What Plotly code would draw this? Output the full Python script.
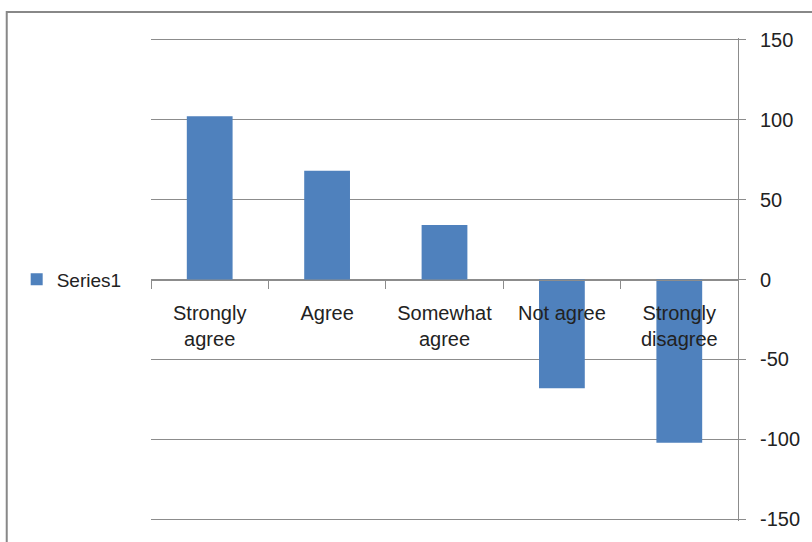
import plotly.graph_objects as go

categories = ["Strongly<br>agree", "Agree", "Somewhat<br>agree", "Not agree", "Strongly<br>disagree"]
values = [102, 68, 34, -68, -102]
series_name = "Series1"
y_ticks = [-150, -100, -50, 0, 50, 100, 150]

W, H = 812, 542
L, R, T, B = 151, 71, 38, 21
ext = 1.0  # small range extension so edge gridlines are drawn

fig = go.Figure()
fig.add_trace(go.Bar(x=categories, y=values, name=series_name,
                     marker=dict(color="#4F81BD", line=dict(width=0)),
                     showlegend=True))

grid = "#8c8c8c"
fig.update_layout(
    width=W, height=H,
    margin=dict(l=L, r=R, t=T, b=B, pad=0),
    paper_bgcolor="white", plot_bgcolor="white",
    bargap=0.61,
    font=dict(family="Liberation Sans, Arial, sans-serif", size=20, color="#222"),
    showlegend=True,
    legend=dict(x=(16 - L) / (W - L - R), xanchor="left", y=0.5, yanchor="middle",
                font=dict(size=19), bgcolor="rgba(0,0,0,0)"),
    xaxis=dict(
        type="category", anchor="free", position=0.5,
        showline=True, linecolor=grid, linewidth=1,
        ticks="outside", tickson="boundaries", ticklen=8, tickcolor=grid,
        showgrid=False, zeroline=False,
        tickfont=dict(size=20), ticklabelstandoff=15,
    ),
    yaxis=dict(
        range=[-150 - ext, 150 + ext], side="right",
        tickvals=y_ticks, ticktext=[str(v) for v in y_ticks],
        showline=True, linecolor=grid, linewidth=1,
        ticks="outside", ticklen=7, tickcolor=grid,
        showgrid=True, gridcolor=grid, gridwidth=1,
        zeroline=False, ticklabelstandoff=10,
        tickfont=dict(size=20),
    ),
    shapes=[dict(type="rect", xref="paper", yref="paper",
                 x0=(6 - L) / (W - L - R), x1=(W + 20 - L) / (W - L - R),
                 y0=-(B + 20) / (H - T - B), y1=1 + (T - 12) / (H - T - B),
                 line=dict(color="#888888", width=2), layer="below")],
)

fig.write_html("out.html")
